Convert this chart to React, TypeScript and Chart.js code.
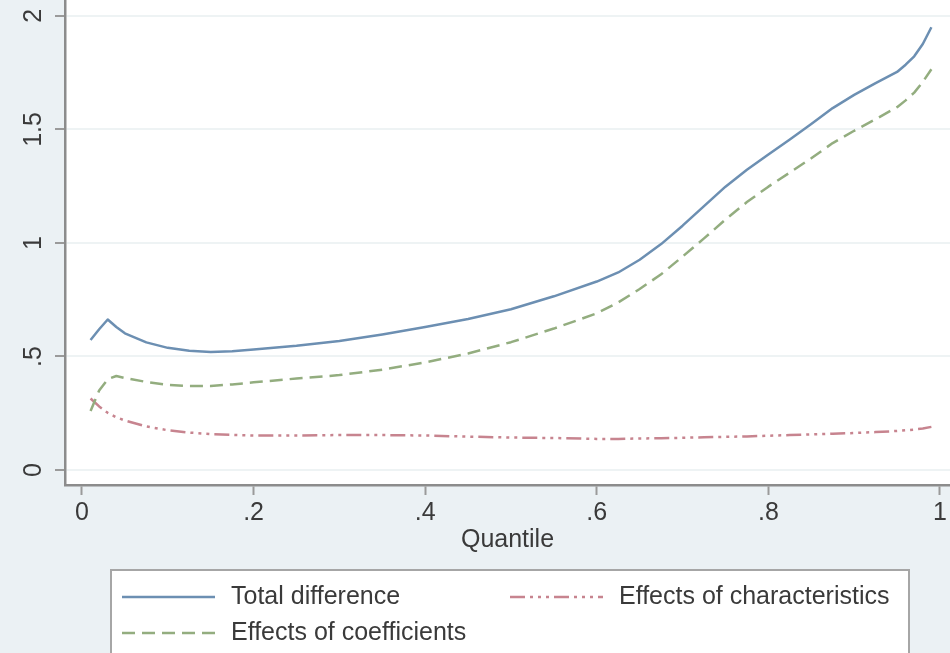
import React, { useEffect, useRef } from "react";
import { Chart, registerables } from "chart.js";

Chart.register(...registerables);

// ---- data ----
const quantiles = [
  0.01, 0.02, 0.03, 0.04, 0.05, 0.075, 0.1, 0.125, 0.15, 0.175, 0.2, 0.25, 0.3,
  0.35, 0.4, 0.45, 0.5, 0.55, 0.6, 0.625, 0.65, 0.675, 0.7, 0.725, 0.75, 0.775,
  0.8, 0.825, 0.85, 0.875, 0.9, 0.925, 0.95, 0.96, 0.97, 0.98, 0.99,
];
const totalDifference = [
  0.573, 0.62, 0.663, 0.63, 0.602, 0.562, 0.538, 0.525, 0.52, 0.523, 0.531, 0.547,
  0.568, 0.597, 0.63, 0.665, 0.708, 0.765, 0.83, 0.87, 0.926, 0.995, 1.076,
  1.162, 1.248, 1.322, 1.39, 1.456, 1.524, 1.594, 1.652, 1.704, 1.753, 1.785, 1.822,
  1.876, 1.95,
];
const effectsOfCoefficients = [
  0.26, 0.35, 0.4, 0.414, 0.405, 0.388, 0.375, 0.37, 0.37, 0.377, 0.386, 0.403,
  0.418, 0.442, 0.474, 0.513, 0.563, 0.623, 0.69, 0.738, 0.797, 0.862, 0.94, 1.02,
  1.103, 1.18, 1.248, 1.31, 1.373, 1.44, 1.494, 1.545, 1.598, 1.628, 1.662, 1.709,
  1.765,
];
const effectsOfCharacteristics = [
  0.315, 0.28, 0.252, 0.232, 0.218, 0.192, 0.175, 0.165, 0.158, 0.155, 0.152,
  0.152, 0.154, 0.154, 0.152, 0.147, 0.143, 0.141, 0.137, 0.137, 0.139, 0.14,
  0.142, 0.144, 0.146, 0.148, 0.151, 0.154, 0.157, 0.16, 0.163, 0.167, 0.172,
  0.175, 0.178, 0.183, 0.19,
];
const seriesLabels = [
  "Total difference",
  "Effects of coefficients",
  "Effects of characteristics",
];
const xTickValues = [0, 0.2, 0.4, 0.6, 0.8, 1];
const xTickLabels = ["0", ".2", ".4", ".6", ".8", "1"];
const yTickValues = [0, 0.5, 1, 1.5, 2];
const yTickLabels = ["0", ".5", "1", "1.5", "2"];
const xAxisTitle = "Quantile";

const FONT = "'Liberation Sans', Arial, Helvetica, sans-serif";
const TEXT_COLOR = "#3a3a3a";
const FONT_SIZE = 25;

export default function App() {
  const canvasRef = useRef<HTMLCanvasElement | null>(null);

  useEffect(() => {
    const canvas = canvasRef.current;
    if (!canvas) return;

    const backgroundPlugin = {
      id: "stataBackground",
      beforeDraw(chart: any) {
        const { ctx, chartArea: a, width, height } = chart;
        ctx.save();
        ctx.fillStyle = "#ebf1f4";
        ctx.fillRect(0, 0, width, height);
        ctx.fillStyle = "#ffffff";
        ctx.fillRect(a.left, a.top, a.right - a.left, a.bottom - a.top);
        ctx.restore();
      },
    };

    const legendPlugin = {
      id: "stataLegend",
      afterDraw(chart: any) {
        const ctx = chart.ctx;
        ctx.save();
        ctx.fillStyle = "#ffffff";
        ctx.fillRect(111, 570, 798, 110);
        ctx.strokeStyle = "#a6a6a6";
        ctx.lineWidth = 2;
        ctx.strokeRect(111, 570, 798, 110);
        const items = [
          { ds: 0, x: 122, y: 597 },
          { ds: 2, x: 510, y: 597 },
          { ds: 1, x: 122, y: 633 },
        ];
        items.forEach((it) => {
          const d: any = chart.data.datasets[it.ds];
          ctx.beginPath();
          ctx.setLineDash(d.borderDash || []);
          ctx.strokeStyle = d.borderColor;
          ctx.lineWidth = d.borderWidth;
          ctx.moveTo(it.x, it.y);
          ctx.lineTo(it.x + 93, it.y);
          ctx.stroke();
          ctx.setLineDash([]);
          ctx.fillStyle = TEXT_COLOR;
          ctx.font = `${FONT_SIZE}px ${FONT}`;
          ctx.textBaseline = "middle";
          ctx.textAlign = "left";
          ctx.fillText(d.label, it.x + 109, it.y);
        });
        ctx.restore();
      },
    };

    const toPoints = (vals: number[]) =>
      quantiles.map((q, i) => ({ x: q, y: vals[i] }));

    const common = {
      borderWidth: 2.5,
      pointRadius: 0,
      tension: 0,
      fill: false,
      borderJoinStyle: "round",
    };

    const chart = new Chart(canvas, {
      type: "line",
      data: {
        datasets: [
          {
            ...common,
            label: seriesLabels[0],
            data: toPoints(totalDifference),
            borderColor: "#6c8fb2",
          },
          {
            ...common,
            label: seriesLabels[1],
            data: toPoints(effectsOfCoefficients),
            borderColor: "#93ad7f",
            borderDash: [13, 7],
          },
          {
            ...common,
            label: seriesLabels[2],
            data: toPoints(effectsOfCharacteristics),
            borderColor: "#c7848f",
            borderDash: [15, 5, 3, 5, 3, 5, 3, 5],
          },
        ],
      },
      options: {
        responsive: false,
        animation: false,
        events: [],
        layout: { padding: 0 },
        plugins: {
          legend: { display: false },
          tooltip: { enabled: false },
          title: { display: false },
        },
        scales: {
          x: {
            type: "linear",
            min: -0.0198,
            max: 1.0117,
            afterBuildTicks(scale: any) {
              scale.ticks = xTickValues.map((v) => ({ value: v }));
            },
            afterFit(scale: any) {
              scale.height = 168;
              scale.paddingLeft = 0;
              scale.paddingRight = 0;
              scale.paddingTop = 0;
              scale.paddingBottom = 0;
            },
            ticks: {
              autoSkip: false,
              maxRotation: 0,
              minRotation: 0,
              padding: 3,
              color: TEXT_COLOR,
              font: { size: FONT_SIZE, family: FONT },
              callback(value: any) {
                const i = xTickValues.findIndex((v) => Math.abs(v - value) < 1e-9);
                return i >= 0 ? xTickLabels[i] : "";
              },
            },
            grid: {
              drawOnChartArea: false,
              drawTicks: true,
              tickLength: 10,
              tickColor: "#9a9a9a",
              tickWidth: 2,
            },
            border: { display: true, color: "#8c8c8c", width: 2.5 },
            title: {
              display: true,
              text: xAxisTitle,
              color: TEXT_COLOR,
              font: { size: FONT_SIZE, family: FONT },
              padding: { top: 0, bottom: 98 },
            },
          },
          y: {
            type: "linear",
            min: -0.066,
            max: 2.07,
            afterBuildTicks(scale: any) {
              scale.ticks = yTickValues.map((v) => ({ value: v }));
            },
            afterFit(scale: any) {
              scale.width = 65;
              scale.paddingLeft = 0;
              scale.paddingRight = 0;
              scale.paddingTop = 0;
              scale.paddingBottom = 0;
            },
            ticks: {
              autoSkip: false,
              minRotation: 90,
              maxRotation: 90,
              crossAlign: "center",
              padding: 4,
              color: TEXT_COLOR,
              font: { size: FONT_SIZE, family: FONT },
              callback(value: any) {
                const i = yTickValues.findIndex((v) => Math.abs(v - value) < 1e-9);
                return i >= 0 ? yTickLabels[i] : "";
              },
            },
            grid: {
              drawOnChartArea: true,
              color: "#eef3f4",
              lineWidth: 2,
              drawTicks: true,
              tickLength: 10,
              tickColor: "#9a9a9a",
              tickWidth: 2,
            },
            border: { display: true, color: "#8c8c8c", width: 2.5 },
          },
        },
      },
      plugins: [backgroundPlugin, legendPlugin],
    } as any);

    return () => chart.destroy();
  }, []);

  return (
    <div style={{ position: "absolute", left: 0, top: 0, width: 950, height: 653 }}>
      <canvas ref={canvasRef} width={950} height={653} style={{ display: "block" }} />
    </div>
  );
}
